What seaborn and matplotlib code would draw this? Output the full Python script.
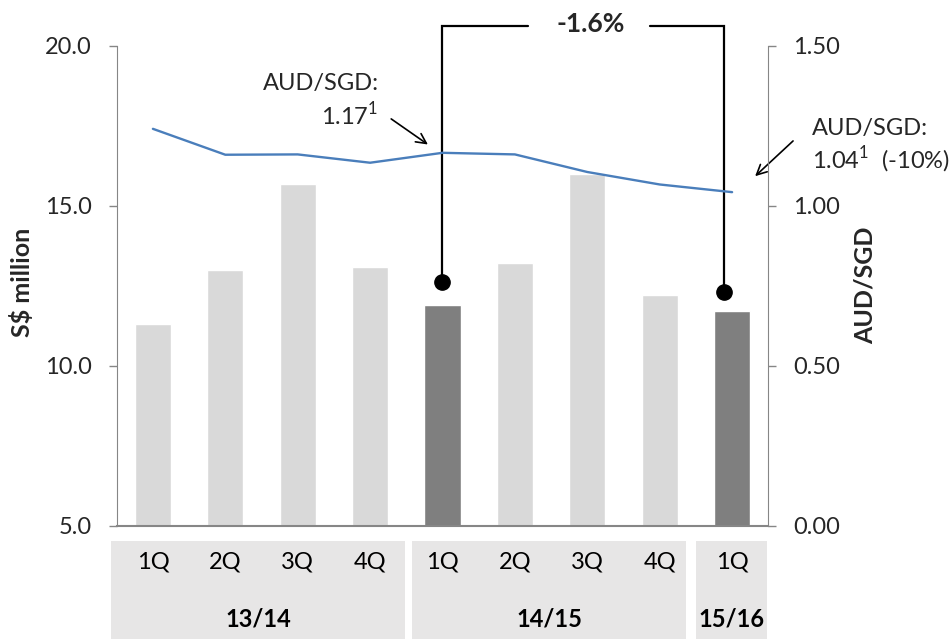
import matplotlib
matplotlib.use("Agg")
import matplotlib.pyplot as plt
import seaborn as sns
import pandas as pd
from matplotlib.patches import Rectangle

# ---- data ----
quarters = ["1Q", "2Q", "3Q", "4Q", "1Q", "2Q", "3Q", "4Q", "1Q"]
revenue = [11.3, 13.0, 15.7, 13.1, 11.9, 13.2, 16.0, 12.2, 11.7]
aud_sgd = [1.241, 1.160, 1.161, 1.135, 1.166, 1.161, 1.106, 1.067, 1.043]
highlight = [False, False, False, False, True, False, False, False, True]
fy_groups = ["13/14", "14/15", "15/16"]
change_label = "-1.6%"
note_left = ["AUD/SGD:", "1.17$^{\\mathregular{1}}$"]
note_right = ["AUD/SGD:", "1.04$^{\\mathregular{1}}$  (-10%)"]

sns.set_style("white")
FONT = ["Lato", "DejaVu Sans"]
plt.rcParams["font.family"] = FONT
plt.rcParams["mathtext.fontset"] = "custom"
plt.rcParams["mathtext.rm"] = "Lato"

LIGHT = "#D9D9D9"
DARK = "#7F7F7F"
LINE = "#4A7EBB"
GRID = "#868686"
BOX = "#E7E6E6"
FS = 17

df = pd.DataFrame({"idx": list(range(len(quarters))), "rev": revenue, "fx": aud_sgd})
colors = [DARK if h else LIGHT for h in highlight]

fig = plt.figure(figsize=(9.49, 6.39), dpi=100)
ax = fig.add_axes([116.7 / 949, 1 - 525.7 / 639, (768.3 - 116.7) / 949, (525.7 - 46) / 639])

sns.barplot(data=df, x="idx", y="rev", hue="idx", palette=colors, legend=False,
            width=0.5, ax=ax, saturation=1, zorder=2)
ax.set_xlim(-0.5, 8.5)
ax.set_ylim(5, 20)
ax.set_yticks([5, 10, 15, 20])
ax.set_yticklabels(["5.0", "10.0", "15.0", "20.0"], fontsize=FS)
ax.set_xticks([i - 0.5 for i in range(len(quarters) + 1)])
ax.set_xticklabels([])
ax.set_xlabel("")
ax.set_ylabel("")
ax.tick_params(axis="y", direction="out", length=6, width=1, color=GRID, pad=12)
ax.tick_params(axis="x", direction="out", length=6, width=1, color=GRID)
for s in ["top", "right"]:
    ax.spines[s].set_visible(False)
ax.spines["left"].set_color(GRID)
ax.spines["bottom"].set_color(GRID)
ax.spines["bottom"].set_linewidth(1.5)

ax2 = ax.twinx()
sns.lineplot(data=df, x="idx", y="fx", ax=ax2, color=LINE, linewidth=1.7, zorder=3)
ax2.set_ylim(0, 1.5)
ax2.set_yticks([0, 0.5, 1.0, 1.5])
ax2.set_yticklabels(["0.00", "0.50", "1.00", "1.50"], fontsize=FS)
ax2.set_ylabel("")
ax2.set_xlabel("")
ax2.tick_params(axis="y", direction="out", length=6, width=1, color=GRID, pad=12)
for s in ["top", "left", "bottom"]:
    ax2.spines[s].set_visible(False)
ax2.spines["right"].set_color(GRID)
ax2.set_xlim(-0.5, 8.5)

# ---- category band ----
tr = ax.get_xaxis_transform()
box_ext = [(-0.58, 3.48), (3.58, 7.37), (7.5, 8.48)]
for (x0, x1), g in zip(box_ext, fy_groups):
    ax.add_patch(Rectangle((x0, -0.236), x1 - x0, 0.205, transform=tr,
                           facecolor=BOX, edgecolor="none", clip_on=False, zorder=0))
    ax.text((x0 + x1) / 2, -0.1945, g, transform=tr, ha="center", va="center",
            fontsize=FS, fontweight="bold", color="black")
for i, q in enumerate(quarters):
    ax.text(i, -0.075, q, transform=tr, ha="center", va="center", fontsize=FS, color="black")

# ---- bracket ----
top_y = 20.64
d1 = (4.0, 12.63)
d2 = (7.89, 12.30)
ax.plot([d1[0], d1[0], 5.18], [d1[1], top_y, top_y], color="black", lw=1.6,
        clip_on=False, zorder=5, solid_joinstyle="miter")
ax.plot([6.87, d2[0], d2[0]], [top_y, top_y, d2[1]], color="black", lw=1.6,
        clip_on=False, zorder=5, solid_joinstyle="miter")
ax.plot([d1[0], d2[0]], [d1[1], d2[1]], "o", color="black", markersize=11,
        linestyle="none", clip_on=False, zorder=6)
ax.text(6.04, top_y + 0.05, change_label, ha="center", va="center", fontsize=19,
        fontweight="bold")

# ---- notes ----
ax.text(3.12, 18.84, note_left[0], ha="right", va="center", fontsize=FS)
ax.text(3.12, 17.84, note_left[1], ha="right", va="center", fontsize=FS)
ax.annotate("", xy=(3.83, 16.87), xytext=(3.26, 17.77),
            arrowprops=dict(arrowstyle="->", color="black", lw=1.2, mutation_scale=18),
            annotation_clip=False)
ax.text(9.10, 17.43, note_right[0], ha="left", va="center", fontsize=FS)
ax.text(9.10, 16.46, note_right[1], ha="left", va="center", fontsize=FS)
ax.annotate("", xy=(8.29, 15.87), xytext=(8.87, 17.09),
            arrowprops=dict(arrowstyle="->", color="black", lw=1.2, mutation_scale=18),
            annotation_clip=False)

fig.text(22 / 949, 1 - 282 / 639, "S$ million", rotation=90, ha="center", va="center",
         fontsize=18, fontweight="bold")
fig.text(865 / 949, 1 - 285 / 639, "AUD/SGD", rotation=90, ha="center", va="center",
         fontsize=18, fontweight="bold")

fig.savefig("out.png", dpi=100)
